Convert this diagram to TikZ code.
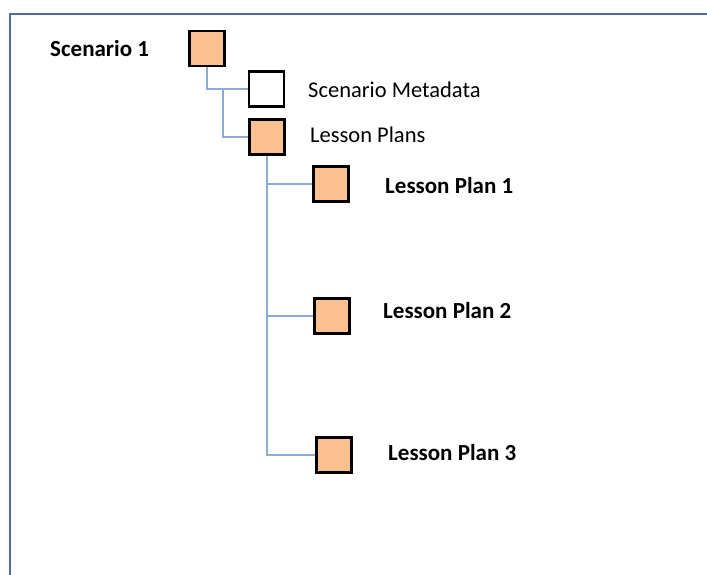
\documentclass[tikz,border=0pt]{standalone}
\usepackage{fontspec}
\setmainfont{Carlito}
\usepackage{tikz}
\usetikzlibrary{calc}
\definecolor{peach}{RGB}{250,192,144}
\definecolor{linkblue}{RGB}{140,172,214}
\definecolor{frameblue}{RGB}{79,110,160}
\tikzstyle{box}=[rectangle,draw=black,line width=2.6pt,fill=peach,minimum size=35pt,inner sep=0pt]
\tikzstyle{emptybox}=[box,fill=white]
\tikzstyle{link} = [draw,linkblue,line width=2pt]
\tikzstyle{title} = [anchor=west,inner sep=0pt,font=\fontsize{23}{26}\selectfont\bfseries]
\tikzstyle{sub} = [anchor=west,inner sep=0pt,font=\fontsize{22.5}{26}\selectfont]

\begin{document}
\begin{tikzpicture}[x=1pt,y=-1pt]

   \useasboundingbox (0,0) rectangle (707,575);
   \draw[frameblue, line width=2.5pt] (10,576) -- (10,14) -- (707,14);

    \foreach \pos/ \name in {{(207,48.5)/S1},{(267,137)/plans},{(331,184)/lp1},{(332,316)/lp2},{(334,455)/lp3}}
        \node[box] (\name) at \pos{};
    \node[emptybox] (meta) at (266.5,89) {};

    \foreach \pos/ \name / \label in {{(50,49)/tS1/Scenario 1},{(385,186)/tlp1/Lesson Plan 1},{(383,311)/tlp2/Lesson Plan 2},{(388,453)/tlp3/Lesson Plan 3}}
	   \node[title] (\name) at \pos {\label};
    \foreach \pos/ \name / \label in {{(308,90)/tmeta/Scenario Metadata},{(310,135)/tplans/Lesson Plans}}
	   \node[sub] (\name) at \pos {\label};

    % Connect boxes
    \coordinate (fork) at (223,89);
    \draw[link] (S1.south) |- (meta.west);
    \draw[link] (fork) |- (plans.west);
    \foreach \source/ \dest in {plans/lp1,plans/lp2,plans/lp3}
        \draw[link] (\source.south) |- (\dest.west);
\end{tikzpicture}
\end{document}
